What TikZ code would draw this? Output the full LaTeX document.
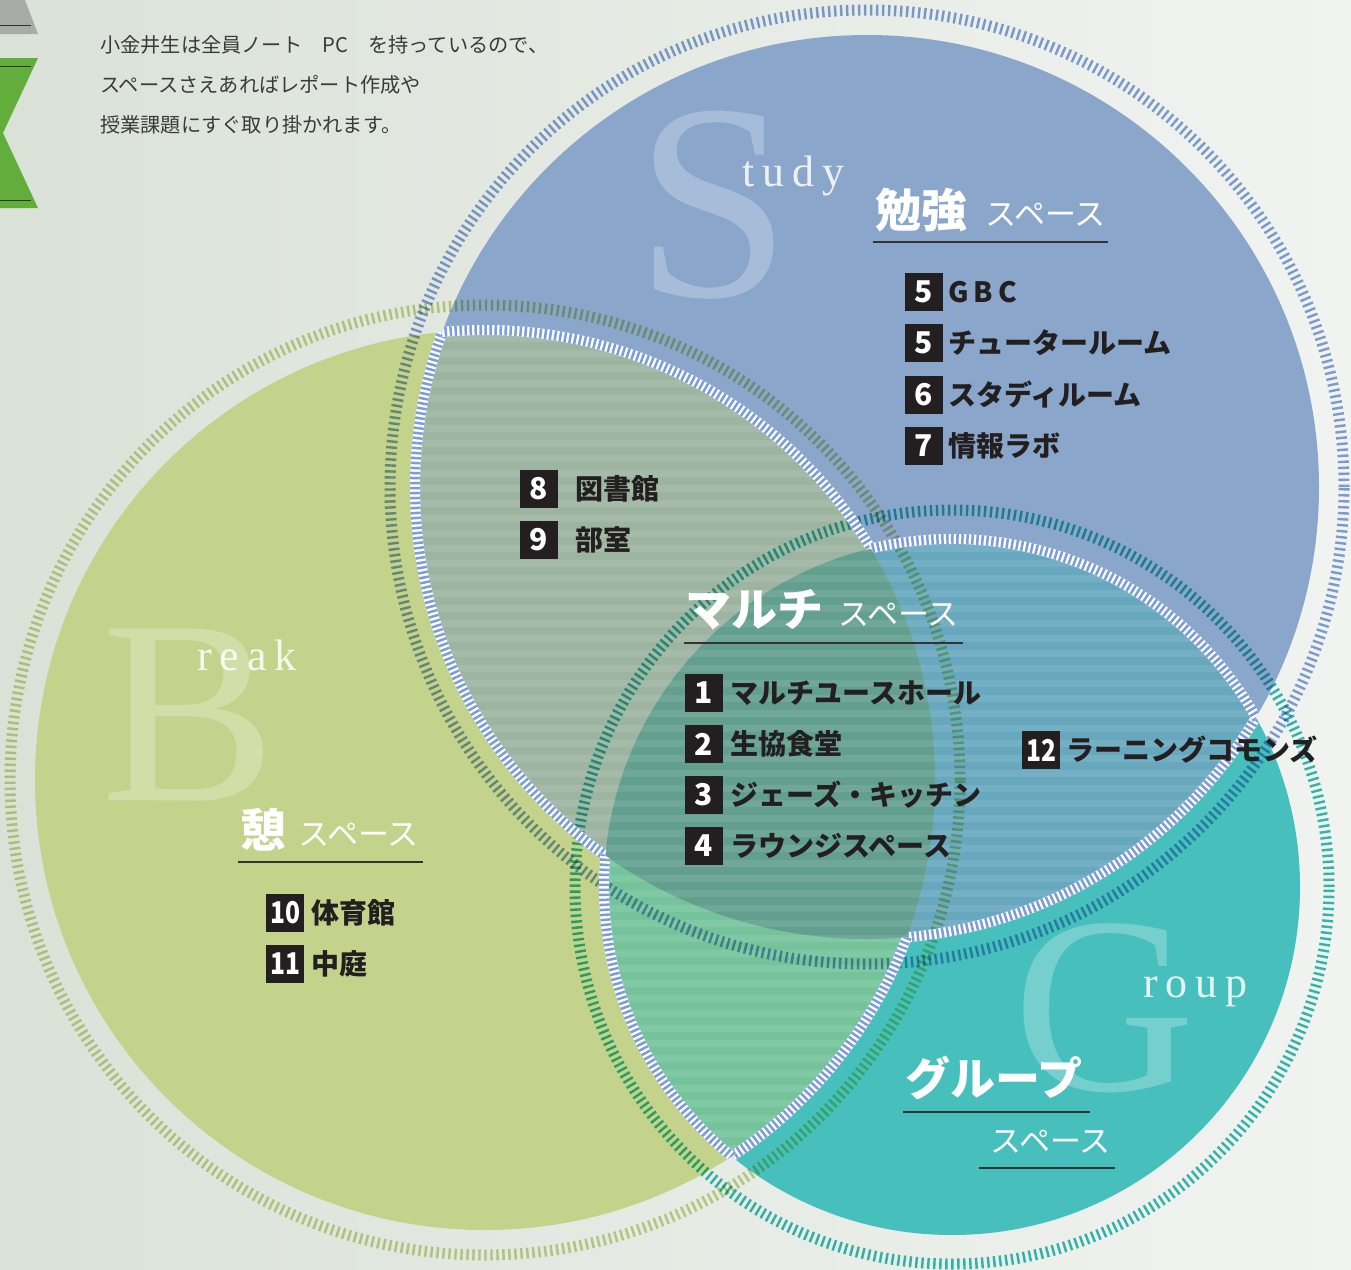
\documentclass[tikz,border=0pt]{standalone}
\usepackage{fontspec}
\usepackage{graphicx}
\newfontfamily\jp{Noto Sans CJK JP}
\newfontfamily\deco{Liberation Serif}
\newfontfamily\decosp{Liberation Serif}[LetterSpace=18]
\usetikzlibrary{positioning}

\definecolor{bgleft}{HTML}{DAE2D8}
\definecolor{bgright}{HTML}{F1F3F0}
\definecolor{breakgreen}{HTML}{C3D38B}
\definecolor{studyblue}{HTML}{8AA6CB}
\definecolor{groupteal}{HTML}{47BFBC}
\definecolor{sbmix}{HTML}{9DB4A0}
\definecolor{sgmix}{HTML}{68A8BE}
\definecolor{bgmix}{HTML}{75C39B}
\definecolor{multimix}{HTML}{629F8F}
\definecolor{ringblue}{HTML}{83A3DA}
\definecolor{ringgreen}{HTML}{C6D78C}
\definecolor{ringteal}{HTML}{36BDB6}
\definecolor{tickblue}{HTML}{7D9DD8}
\definecolor{boxblack}{HTML}{231F20}
\definecolor{entryblack}{HTML}{231F20}
\definecolor{rulegrey}{HTML}{333333}
\definecolor{leadgrey}{HTML}{3A3A3A}
\definecolor{tabgrey}{HTML}{A8ABA8}
\definecolor{tabgreen}{HTML}{62AD3C}

\tikzset{
  numbox/.style={fill=boxblack, text=white, minimum width=38pt, minimum height=38pt, inner sep=0pt, font=\jp\bfseries\fontsize{30}{30}\selectfont},
  entry/.style={text=entryblack, inner sep=0pt, font=\jp\bfseries\fontsize{28}{28}\selectfont},
  bigtitle/.style={text=white, inner sep=0pt, anchor=west, font=\jp\bfseries\fontsize{46}{46}\selectfont},
  subtitle/.style={text=white, inner sep=0pt, anchor=west, font=\jp\fontsize{31}{31}\selectfont},
  titlerule/.style={draw=rulegrey, line width=1.5pt},
  bigletter/.style={text=white, text opacity=0.25, inner sep=0pt, anchor=base west},
  smallletters/.style={text=white, text opacity=0.85, inner sep=0pt, anchor=base west, font=\decosp\fontsize{44}{44}\selectfont},
  leadtext/.style={text=leadgrey, inner sep=0pt, anchor=west, font=\jp\fontsize{20.2}{20.2}\selectfont},
  tickring/.style={line width=11pt, dash pattern=on 2.4pt off 3.6pt},
  whiteband/.style={draw=white, line width=10pt},
  blueticks/.style={draw=tickblue, line width=10pt, dash pattern=on 2.5pt off 2.5pt},
}
\newcommand{\twodig}[1]{\scalebox{0.82}[1]{#1}}

\begin{document}
\begin{tikzpicture}[x=1pt,y=-1pt]
\useasboundingbox (0,0) rectangle (1351,1269);
\shade[left color=bgleft, right color=bgright] (0,0) rectangle (1351,1269);

% corner tabs
\fill[tabgrey] (0,0) -- (25,0) -- (38,34) -- (0,34) -- cycle;
\draw[rulegrey, line width=1pt] (0,25) -- (31,25);
\fill[tabgreen] (0,58) -- (38,58) -- (3,133) -- (38,208) -- (0,208) -- cycle;
\draw[rulegrey, line width=1pt] (0,66) -- (31,66);
\draw[rulegrey, line width=1pt] (0,200) -- (31,200);

% circle centres
\coordinate (sc) at (867,487);
\coordinate (bc) at (485,780);
\coordinate (gc) at (952,887);

% base fills
\fill[breakgreen] (bc) circle (450pt);
\fill[studyblue] (sc) circle (452pt);
\fill[groupteal] (gc) circle (348pt);

% overlaps
\begin{scope}
  \clip (sc) circle (452pt);
  \fill[sbmix] (bc) circle (450pt);
  \fill[sgmix] (gc) circle (348pt);
\end{scope}
\begin{scope}
  \clip (bc) circle (450pt);
  \fill[bgmix] (gc) circle (348pt);
\end{scope}
\begin{scope}
  \clip (sc) circle (452pt);
  \clip (bc) circle (450pt);
  \fill[multimix] (gc) circle (348pt);
\end{scope}

% stripes in the overlaps
\begin{scope}
  \clip (sc) circle (452pt);
  \clip (bc) circle (450pt);
  \foreach \yy in {320,335,...,1180}
    \fill[white, fill opacity=.09] (380,\yy) rectangle ++(960,7);
\end{scope}
\begin{scope}[even odd rule]
  \clip (gc) circle (348pt);
  \clip (sc) circle (452pt) (bc) circle (450pt);
  \foreach \yy in {320,335,...,1180}
    \fill[white, fill opacity=.09] (380,\yy) rectangle ++(960,7);
\end{scope}

% big initials
\node[bigletter, font=\deco\fontsize{280}{280}\selectfont] (bigS) at (635,296) {S};
\node[smallletters] (tudy) at (742,186) {tudy};
\node[bigletter, font=\deco\fontsize{262}{262}\selectfont] (bigB) at (101,800) {B};
\node[smallletters] (reak) at (197,670) {reak};
\node[bigletter, font=\deco\fontsize{252}{252}\selectfont] (bigG) at (1013,1090) {G};
\node[smallletters] (roup) at (1143,997) {roup};

% tick rings
\begin{scope}[blend mode=multiply]
  \draw[tickring, draw=ringblue] (sc) circle (477pt);
  \draw[tickring, draw=ringgreen] (bc) circle (475pt);
  \draw[tickring, draw=ringteal] (gc) circle (377pt);
\end{scope}

% white outline of the overlaps
\begin{scope}[even odd rule]
  \clip (bc) circle (450pt) (gc) circle (348pt);
  \draw[whiteband] (sc) circle (452pt);
  \draw[blueticks] (sc) circle (452pt);
\end{scope}
\begin{scope}[even odd rule]
  \clip (sc) circle (452pt) (gc) circle (348pt);
  \draw[whiteband] (bc) circle (450pt);
  \draw[blueticks] (bc) circle (450pt);
\end{scope}
\begin{scope}[even odd rule]
  \clip (sc) circle (452pt) (bc) circle (450pt);
  \draw[whiteband] (gc) circle (348pt);
  \draw[blueticks] (gc) circle (348pt);
\end{scope}

% lead text
\node[leadtext] (lead1) at (100,45) {小金井生は全員ノート　PC　を持っているので、};
\node[leadtext] (lead2) at (100,85) {スペースさえあればレポート作成や};
\node[leadtext] (lead3) at (100,125) {授業課題にすぐ取り掛かれます。};

% study
\node[bigtitle] (studyT) at (875,210) {勉強};
\node[subtitle] (studyS) at (985,215) {スペース};
\draw[titlerule] (873,242) -- (1108,242);
\node[numbox] (n5a) at (924,292) {5};
\node[entry, right=5pt of n5a] (gbc) {G\kern5pt B\kern5pt C};
\node[numbox] (n5b) at (924,343) {5};
\node[entry, right=5pt of n5b] (tutor) {チュータールーム};
\node[numbox] (n6) at (924,395) {6};
\node[entry, right=5pt of n6] (studyroom) {スタディルーム};
\node[numbox] (n7) at (924,446) {7};
\node[entry, right=5pt of n7] (infolab) {情報ラボ};

% study and break
\node[numbox] (n8) at (539,489) {8};
\node[entry, right=17pt of n8] (library) {図書館};
\node[numbox] (n9) at (539,540) {9};
\node[entry, right=17pt of n9] (clubroom) {部室};

% multi
\node[bigtitle] (multiT) at (685,610) {マルチ};
\node[subtitle] (multiS) at (838,615) {スペース};
\draw[titlerule] (684,643) -- (963,643);
\node[numbox] (n1) at (704,693) {1};
\node[entry, right=7pt of n1] (hall) {マルチユースホール};
\node[numbox] (n2) at (704,744) {2};
\node[entry, right=7pt of n2] (coop) {生協食堂};
\node[numbox] (n3) at (704,795) {3};
\node[entry, right=7pt of n3] (kitchen) {ジェーズ・キッチン};
\node[numbox] (n4) at (704,846) {4};
\node[entry, right=7pt of n4] (lounge) {ラウンジスペース};

% study and group
\node[numbox] (n12) at (1041,750) {\twodig{12}};
\node[entry, right=6pt of n12] (commons) {ラーニングコモンズ};

% break
\node[bigtitle] (breakT) at (240,830) {憩};
\node[subtitle] (breakS) at (298,835) {スペース};
\draw[titlerule] (238,862) -- (423,862);
\node[numbox] (n10) at (285,913) {\twodig{10}};
\node[entry, right=7pt of n10] (gym) {体育館};
\node[numbox] (n11) at (285,964) {\twodig{11}};
\node[entry, right=7pt of n11] (court) {中庭};

% group
\node[bigtitle, font=\jp\bfseries\fontsize{45}{45}\selectfont] (groupT) at (905,1078) {グループ};
\draw[titlerule] (903,1112) -- (1090,1112);
\node[subtitle] (groupS) at (990,1142) {スペース};
\draw[titlerule] (979,1168) -- (1115,1168);
\end{tikzpicture}
\end{document}
